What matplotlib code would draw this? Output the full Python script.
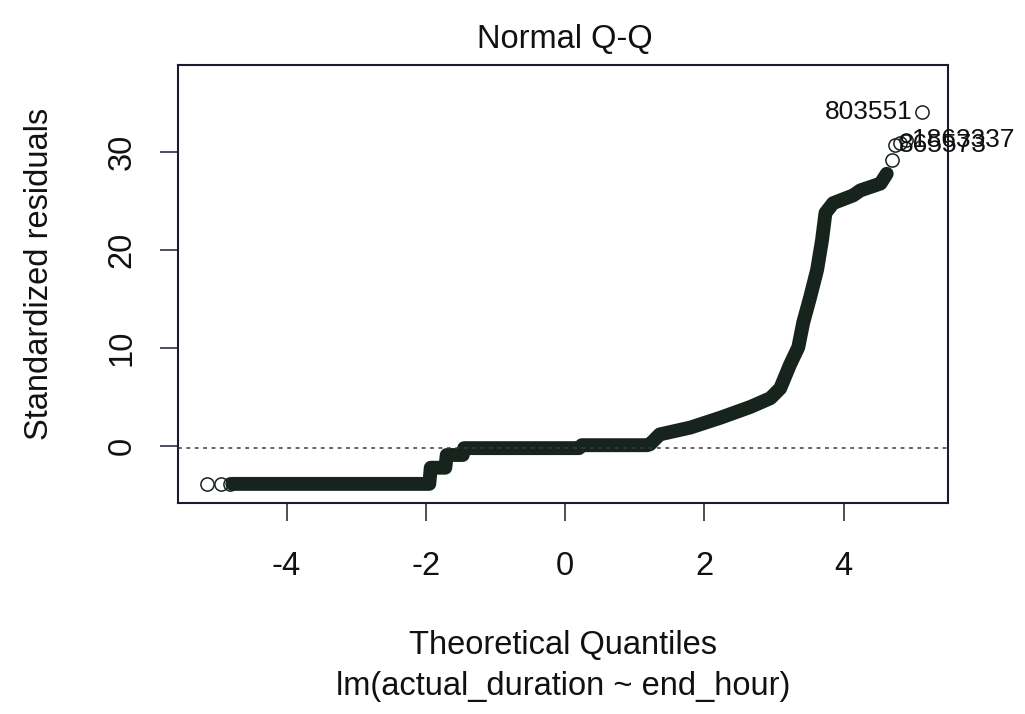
import matplotlib
matplotlib.use("Agg")
import matplotlib.pyplot as plt

plt.rcParams['font.family'] = ['Liberation Sans', 'DejaVu Sans']

# 理論分位点と標準化残差（点が密集している帯の部分）
band_q = [-4.78, -4.0, -3.0, -1.95, -1.93, -1.72, -1.70, -1.47, -1.45,
          0.20, 0.24, 1.18, 1.22, 1.36, 1.80, 2.23, 2.66, 2.95, 3.09,
          3.23, 3.35, 3.42, 3.52, 3.62, 3.69, 3.74, 3.85, 4.14, 4.24,
          4.53, 4.62]
band_r = [-3.85, -3.85, -3.85, -3.85, -2.2, -2.2, -0.9, -0.9, -0.2,
          -0.2, 0.1, 0.1, 0.2, 1.2, 1.9, 2.9, 4.0, 4.9, 5.9,
          8.3, 10.1, 12.6, 15.2, 18.0, 21.0, 23.8, 24.8, 25.6, 26.1,
          26.8, 27.8]

# 両端の離れた点
tail_q = [-5.14, -4.94, -4.82, 4.70, 4.74, 4.81, 4.89, 5.13]
tail_r = [-3.85, -3.85, -3.85, 29.2, 30.7, 30.9, 31.2, 34.1]

# 外れ値のラベル
id_labels = ['803551', '865573', '1863337']
id_q = [5.13, 4.74, 4.89]
id_r = [34.1, 30.7, 31.2]
id_dx = [-7, 3, 5]

# qqline（四分位点を通る直線）
qq_intercept = -0.2
qq_slope = 0.0

x_ticks = [-4, -2, 0, 2, 4]
y_ticks = [0, 10, 20, 30]

ink = '#17231d'
frame = '#1c1c30'

fig = plt.figure(figsize=(10.25, 7.14), dpi=100)
ax = fig.add_axes([178 / 1025, 1 - 503 / 714, 770 / 1025, 438 / 714])

ax.plot(band_q, band_r, color=ink, lw=10, solid_capstyle='round',
        solid_joinstyle='round', zorder=2)
ax.plot(tail_q, tail_r, 'o', ms=9.5, mfc='none', mec=ink, mew=1.1, zorder=3)

ax.axline((0, qq_intercept), slope=qq_slope, color='#3a3a3a', lw=1.1,
          linestyle=(0, (2.5, 3)), zorder=4)

# ラベル：最大の点は左側、それ以外は右側
for lab, q, r, dx in zip(id_labels, id_q, id_r, id_dx):
    ax.annotate(lab, (q, r), xytext=(dx, 0), textcoords='offset points',
                ha='right' if dx < 0 else 'left', va='center',
                fontsize=19, color='#111111', annotation_clip=False)

ax.set_xlim(-5.56, 5.50)
ax.set_ylim(-5.8, 38.9)
ax.set_xticks(x_ticks)
ax.set_xticklabels([str(v) for v in x_ticks])
ax.set_yticks(y_ticks)
ax.set_yticklabels([str(v) for v in y_ticks], rotation=90, va='center')

for s in ax.spines.values():
    s.set_color(frame)
    s.set_linewidth(1.5)
ax.tick_params(direction='out', length=13, width=1.1, color=frame,
               labelsize=23.5, labelcolor='#111111')
ax.tick_params(axis='x', pad=21.5)
ax.tick_params(axis='y', pad=16)

fig.text(565 / 1025, 1 - 40 / 714, 'Normal Q-Q', ha='center', va='center',
         fontsize=23.5, color='#111111')
fig.text(563 / 1025, 1 - 645 / 714, 'Theoretical Quantiles', ha='center',
         va='center', fontsize=23.5, color='#111111')
fig.text(563 / 1025, 1 - 686 / 714, 'lm(actual_duration ~ end_hour)',
         ha='center', va='center', fontsize=23.5, color='#111111')
fig.text(40 / 1025, 1 - 274 / 714, 'Standardized residuals', rotation=90,
         ha='center', va='center', fontsize=23.5, color='#111111')

fig.savefig('out.png', dpi=100)
